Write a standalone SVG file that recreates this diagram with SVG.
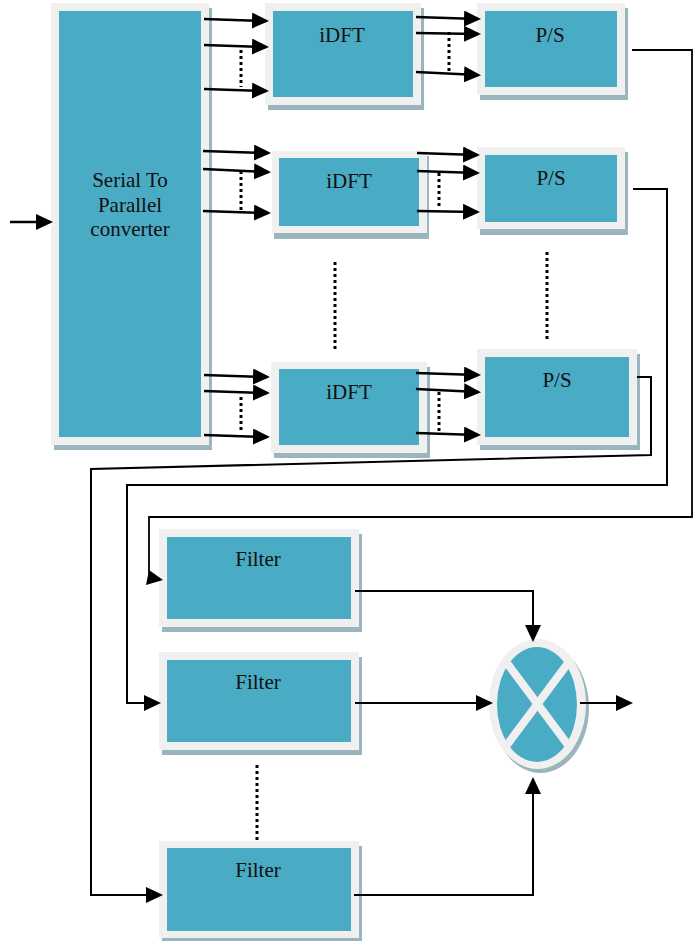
<svg xmlns="http://www.w3.org/2000/svg" width="697" height="941" viewBox="0 0 697 941">
  <defs>
    <style>
      .shadow { fill: #9ab5bd; }
      .frame { fill: #f0f0f0; }
      .body { fill: #4aabc5; }
      .label { font-family: "Liberation Serif", "Times New Roman", serif; font-size: 21px; fill: #111; text-anchor: middle; }
      .arrow { stroke: #000; stroke-width: 2.5; fill: none; marker-end: url(#head); }
      .wire { stroke: #000; stroke-width: 1.8; fill: none; }
      .wire-arrow { stroke: #000; stroke-width: 2; fill: none; marker-end: url(#head); }
      .dots { stroke: #000; stroke-width: 3; stroke-dasharray: 3 3; fill: none; }
    </style>
    <marker id="head" markerUnits="userSpaceOnUse" markerWidth="18" markerHeight="16" refX="14" refY="8" orient="auto">
      <path d="M0,0 L17,8 L0,16 z" fill="#000"/>
    </marker>
    <clipPath id="mulClip">
      <ellipse cx="537.5" cy="704" rx="48.5" ry="65"/>
    </clipPath>
  </defs>

  <rect width="697" height="941" fill="#fff"/>

  <!-- Serial to parallel converter -->
  <g id="sp">
    <rect class="shadow" x="54" y="8" width="158" height="442"/>
    <rect class="frame" x="51" y="3" width="158" height="442"/>
    <rect class="body" x="59" y="11" width="142" height="426"/>
    <text class="label" x="130" y="187">Serial To</text>
    <text class="label" x="130" y="212">Parallel</text>
    <text class="label" x="130" y="236">converter</text>
  </g>

  <!-- iDFT blocks -->
  <g id="idft1">
    <rect class="shadow" x="268" y="8" width="156" height="102"/>
    <rect class="frame" x="265" y="3" width="156" height="102"/>
    <rect class="body" x="273" y="11" width="140" height="86"/>
    <text class="label" x="342" y="42">iDFT</text>
  </g>
  <g id="idft2">
    <rect class="shadow" x="274" y="156" width="155" height="83"/>
    <rect class="frame" x="272" y="151" width="155" height="82"/>
    <rect class="body" x="279" y="158" width="140" height="68"/>
    <text class="label" x="349" y="188">iDFT</text>
  </g>
  <g id="idft3">
    <rect class="shadow" x="274" y="367" width="156" height="91"/>
    <rect class="frame" x="271" y="362" width="156" height="91"/>
    <rect class="body" x="279" y="369" width="140" height="76"/>
    <text class="label" x="349" y="399">iDFT</text>
  </g>

  <!-- Parallel to serial blocks -->
  <g id="ps1">
    <rect class="shadow" x="480" y="8" width="148" height="92"/>
    <rect class="frame" x="477" y="3" width="148" height="92"/>
    <rect class="body" x="485" y="11" width="132" height="76"/>
    <text class="label" x="550" y="42">P/S</text>
  </g>
  <g id="ps2">
    <rect class="shadow" x="480" y="152" width="148" height="83"/>
    <rect class="frame" x="477" y="147" width="148" height="82"/>
    <rect class="body" x="485" y="155" width="132" height="67"/>
    <text class="label" x="551" y="185">P/S</text>
  </g>
  <g id="ps3">
    <rect class="shadow" x="480" y="354" width="160" height="96"/>
    <rect class="frame" x="477" y="349" width="160" height="96"/>
    <rect class="body" x="485" y="357" width="144" height="80"/>
    <text class="label" x="557" y="387">P/S</text>
  </g>

  <!-- Filters -->
  <g id="filter1">
    <rect class="shadow" x="162" y="534" width="200" height="98"/>
    <rect class="frame" x="159" y="529" width="200" height="98"/>
    <rect class="body" x="167" y="537" width="184" height="82"/>
    <text class="label" x="258" y="566">Filter</text>
  </g>
  <g id="filter2">
    <rect class="shadow" x="162" y="657" width="200" height="98"/>
    <rect class="frame" x="159" y="652" width="200" height="98"/>
    <rect class="body" x="167" y="660" width="184" height="82"/>
    <text class="label" x="258" y="689">Filter</text>
  </g>
  <g id="filter3">
    <rect class="shadow" x="162" y="846" width="200" height="97"/>
    <rect class="frame" x="159" y="841" width="200" height="97"/>
    <rect class="body" x="167" y="848" width="184" height="83"/>
    <text class="label" x="258" y="877">Filter</text>
  </g>

  <!-- Multiplier -->
  <g id="multiplier">
    <ellipse class="shadow" cx="540.5" cy="708" rx="48.5" ry="65"/>
    <ellipse class="frame" cx="537.5" cy="704" rx="48.5" ry="65"/>
    <ellipse class="body" cx="537" cy="704.5" rx="40" ry="57.5"/>
    <g clip-path="url(#mulClip)" stroke="#f0f0f0" stroke-width="8">
      <line x1="489" y1="639" x2="586" y2="769"/>
      <line x1="586" y1="639" x2="489" y2="769"/>
    </g>
  </g>

  <!-- Connectors -->
  <g id="connectors">
    <!-- input -->
    <line class="arrow" x1="10" y1="222" x2="50" y2="222"/>

    <!-- converter to iDFT -->
    <line class="arrow" x1="204" y1="19" x2="266" y2="21"/>
    <line class="arrow" x1="204" y1="45" x2="266" y2="47"/>
    <line class="arrow" x1="204" y1="89" x2="266" y2="91"/>
    <line class="arrow" x1="203" y1="151" x2="268" y2="153"/>
    <line class="arrow" x1="203" y1="169" x2="268" y2="172"/>
    <line class="arrow" x1="203" y1="211" x2="268" y2="213"/>
    <line class="arrow" x1="204" y1="375" x2="267" y2="377"/>
    <line class="arrow" x1="204" y1="391" x2="267" y2="393"/>
    <line class="arrow" x1="204" y1="435" x2="267" y2="437"/>

    <!-- iDFT to P/S -->
    <line class="arrow" x1="416" y1="17" x2="478" y2="19"/>
    <line class="arrow" x1="416" y1="33" x2="478" y2="34"/>
    <line class="arrow" x1="416" y1="72" x2="478" y2="75"/>
    <line class="arrow" x1="417" y1="153" x2="477" y2="155"/>
    <line class="arrow" x1="417" y1="171" x2="477" y2="173"/>
    <line class="arrow" x1="417" y1="211" x2="477" y2="212"/>
    <line class="arrow" x1="416" y1="373" x2="478" y2="375"/>
    <line class="arrow" x1="416" y1="389" x2="478" y2="392"/>
    <line class="arrow" x1="416" y1="433" x2="478" y2="435"/>

    <!-- dotted continuation marks -->
    <line class="dots" x1="241" y1="50" x2="241" y2="87"/>
    <line class="dots" x1="449" y1="32" x2="449" y2="72"/>
    <line class="dots" x1="241" y1="171" x2="241" y2="210"/>
    <line class="dots" x1="439" y1="173" x2="439" y2="208"/>
    <line class="dots" x1="241" y1="397" x2="241" y2="433"/>
    <line class="dots" x1="439" y1="392" x2="439" y2="431"/>
    <line class="dots" x1="335" y1="262" x2="335" y2="350"/>
    <line class="dots" x1="547" y1="252" x2="547" y2="340"/>
    <line class="dots" x1="257" y1="765" x2="257" y2="841"/>

    <!-- P/S outputs routed to filters -->
    <polyline class="wire" points="632,50 692,50 692,517 149,517 149,578"/>
    <polygon points="146,585 163,580 149,570" fill="#000"/>
    <polyline class="wire-arrow" points="633,189 667,189 667,485 127,485 127,703 158,703"/>
    <polyline class="wire-arrow" points="637,377 651,377 651,455 91,469 91,895 160,895"/>

    <!-- filters to multiplier -->
    <polyline class="wire-arrow" points="355,591 533,591 533,639"/>
    <line class="wire-arrow" x1="355" y1="703" x2="490" y2="703"/>
    <polyline class="wire-arrow" points="354,895 533,895 533,780"/>

    <!-- output -->
    <line class="wire-arrow" x1="580" y1="703" x2="630" y2="703"/>
  </g>
</svg>
